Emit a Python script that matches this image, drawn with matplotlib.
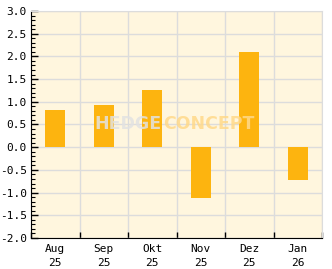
import numpy as np
import matplotlib
matplotlib.use("Agg")
from matplotlib import pyplot as plt
from matplotlib.ticker import MultipleLocator

# Daten
monate = ["Aug\n25", "Sep\n25", "Okt\n25", "Nov\n25", "Dez\n25", "Jan\n26"]
werte = [0.83, 0.92, 1.27, -1.12, 2.09, -0.73]

balken_farbe = "#FDB40F"
hintergrund = "#FFF6DE"
gitter = "#DCDCDC"

fig = plt.figure(figsize=(3.32, 2.69), dpi=100)
ax = fig.add_axes([31 / 332, 31 / 269, 291 / 332, 227 / 269])
ax.set_facecolor(hintergrund)

x = np.arange(len(monate))
ax.bar(x, werte, width=0.41, color=balken_farbe, zorder=3)

ax.set_xlim(-0.5, len(monate) - 0.5)
ax.set_ylim(-2.0, 3.0)

# Achsen
ax.yaxis.set_major_locator(MultipleLocator(0.5))
ax.yaxis.set_minor_locator(MultipleLocator(0.1))
ax.set_yticklabels([f"{v:.1f}" for v in ax.get_yticks()])
ax.tick_params(axis="y", which="major", direction="in", length=5, width=1,
               labelsize=8, pad=3)
ax.tick_params(axis="y", which="minor", direction="in", length=3, width=0.8)

ax.set_xticks(x)
ax.set_xticklabels(monate, fontsize=8, linespacing=1.5)
ax.xaxis.set_minor_locator(MultipleLocator(1, offset=0.5))
ax.tick_params(axis="x", which="major", length=0, pad=4)
ax.tick_params(axis="x", which="minor", direction="in", length=4, width=1)

for lab in ax.get_xticklabels() + ax.get_yticklabels():
    lab.set_family("DejaVu Sans Mono")

ax.grid(True, axis="y", which="major", color=gitter, linewidth=1, zorder=1)
ax.grid(True, axis="x", which="minor", color=gitter, linewidth=1, zorder=1)

ax.spines["left"].set_color("black")
ax.spines["bottom"].set_color("black")
ax.spines["top"].set_color(gitter)
ax.spines["right"].set_color(gitter)

# Wasserzeichen
fig.text(162 / 332, 0.538, "HEDGE", fontsize=12.5, fontweight="bold",
         color="#E2E2E2", alpha=0.85, ha="right", va="center", zorder=5)
fig.text(163 / 332, 0.538, "CONCEPT", fontsize=12.5, fontweight="bold",
         color="#FFD98A", alpha=0.85, ha="left", va="center", zorder=5)

fig.savefig("out.png", dpi=100, facecolor="white")
